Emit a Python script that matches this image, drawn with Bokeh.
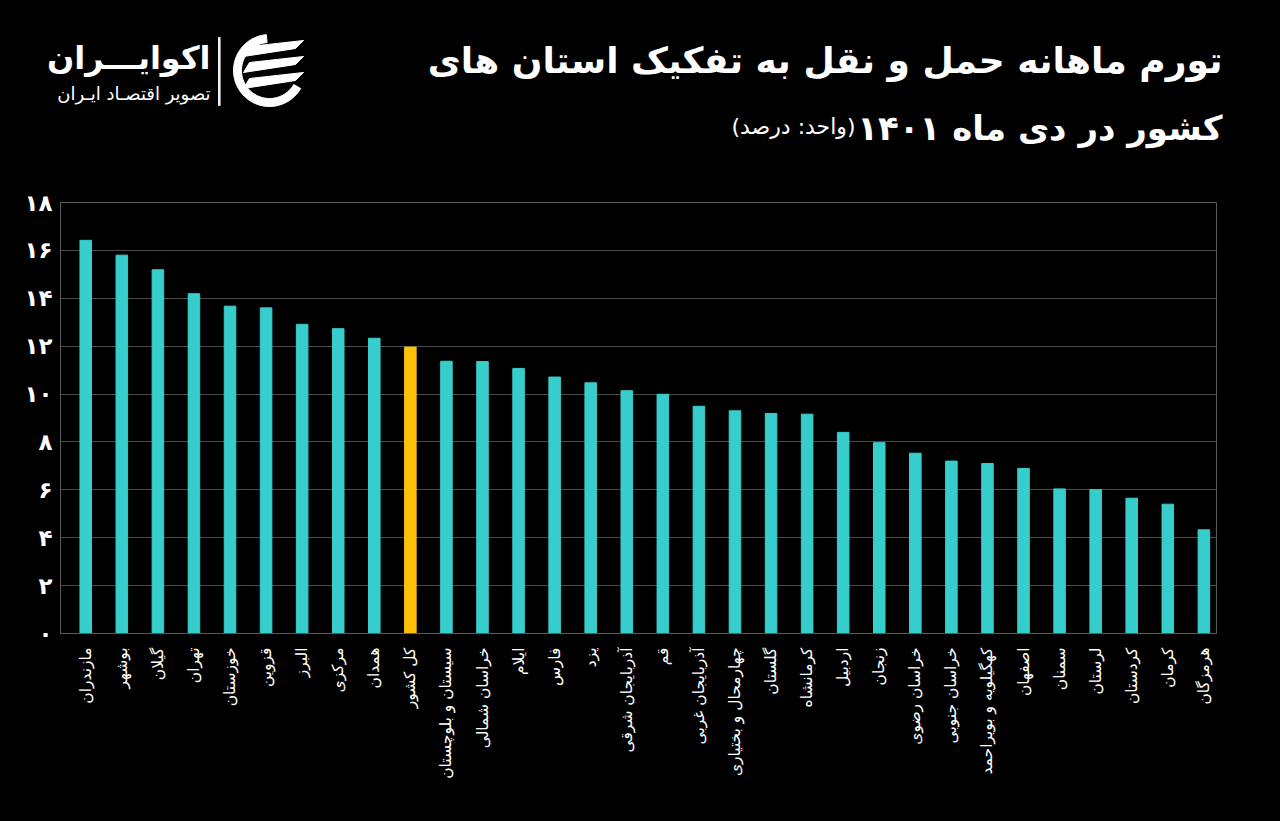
import numpy as np
from bokeh.plotting import figure
from bokeh.core.properties import value
from bokeh.models import Range1d, FixedTicker, ColumnDataSource
from bokeh.embed import file_html
from bokeh.resources import INLINE

# ---------------- data ----------------
provinces = ["مازندران", "بوشهر", "گیلان", "تهران", "خوزستان", "قزوین", "البرز",
             "مرکزی", "همدان", "کل کشور", "سیستان و بلوچستان", "خراسان شمالی",
             "ایلام", "فارس", "یزد", "آذربایجان شرقی", "قم", "آذربایجان غربی",
             "چهارمحال و بختیاری", "گلستان", "کرمانشاه", "اردبیل", "زنجان",
             "خراسان رضوی", "خراسان جنوبی", "کهگیلویه و بویراحمد", "اصفهان",
             "سمنان", "لرستان", "کردستان", "کرمان", "هرمزگان"]
values = [16.42, 15.80, 15.19, 14.19, 13.67, 13.60, 12.91, 12.73, 12.33, 11.96,
          11.37, 11.36, 11.07, 10.71, 10.47, 10.14, 9.99, 9.49, 9.30, 9.19,
          9.16, 8.40, 7.97, 7.53, 7.20, 7.10, 6.89, 6.04, 6.01, 5.65, 5.40, 4.33]
highlight = "کل کشور"
y_ticks = [0, 2, 4, 6, 8, 10, 12, 14, 16, 18]
y_tick_labels = ["۰", "۲", "۴", "۶", "۸", "۱۰", "۱۲", "۱۴", "۱۶", "۱۸"]

title_line1 = "تورم ماهانه حمل و نقل به تفکیک استان های"
title_line2 = "کشور در دی ماه ۱۴۰۱"
unit_text = "(واحد: درصد)"
brand = "اکوایـــران"
brand_sub = "تصویر اقتصـاد ایـران"

TEAL = "#38CDCD"
GOLD = "#FFC107"
FONT = "DejaVu Sans"

W, H = 1280, 821
HEAD = 170          # header strip height
FL, FT, FR, FB = 60, 202, 1216, 633   # chart frame in page px

# ---------------- header (title + logo) ----------------
hd = figure(width=W, height=HEAD, output_backend="svg", toolbar_location=None,
            x_range=Range1d(0, W), y_range=Range1d(HEAD, 0),
            x_axis_type=None, y_axis_type=None,
            min_border=0, min_border_left=0, min_border_right=0,
            min_border_top=0, min_border_bottom=0)
hd.background_fill_color = "black"
hd.border_fill_color = "black"
hd.outline_line_color = None


def htext(txt, x, y, size, bold=True):
    hd.text(x=[x], y=[y], text=[txt], text_align="right", text_baseline="middle",
            text_color="white", text_font=value(FONT), text_font_size=size,
            text_font_style="bold" if bold else "normal")


htext(title_line1, 1222, 60, "36px")
htext(title_line2, 1222, 127, "34px")
htext(unit_text, 855, 126, "22px", bold=False)
htext(brand, 210, 57, "32px")
htext(brand_sub, 210, 93, "18px", bold=False)

# divider
hd.quad(left=[218], right=[219.6], top=[37], bottom=[105], color="white", alpha=0.9)

# logo icon (decorative approximation)
cx, cy, R = 269, 70, 36
th = np.linspace(np.radians(95), np.radians(330), 60)
ring_x = list(cx + R * np.cos(th)) + list(cx + (R - 8) * np.cos(th[::-1]))
ring_y = list(cy - R * np.sin(th)) + list(cy - (R - 8) * np.sin(th[::-1]))
shape_xs = [ring_x]
shape_ys = [ring_y]
for off in [-18, -2, 14]:
    shape_xs.append([cx - 20, cx + 34, cx + 26, cx - 26])
    shape_ys.append([cy + off - 6, cy + off - 12, cy + off - 4, cy + off + 4])
hd.patches(xs=shape_xs, ys=shape_ys, color="white")

# ---------------- chart ----------------
idx = list(range(len(provinces)))
colors = [GOLD if n == highlight else TEAL for n in provinces]
src = ColumnDataSource(dict(x=idx, top=values, color=colors, name=provinces))

p = figure(width=W, height=H - HEAD, output_backend="svg", toolbar_location=None,
           x_range=Range1d(-0.70, len(provinces) - 1 + 0.35),
           y_range=Range1d(0, 18),
           min_border_left=FL, min_border_right=W - FR,
           min_border_top=FT - HEAD, min_border_bottom=H - FB)
p.background_fill_color = "black"
p.border_fill_color = "black"
p.outline_line_color = "#5a5a5a"

p.vbar(x="x", top="top", width=0.32, color="color", source=src)

# x axis
p.xaxis.ticker = FixedTicker(ticks=idx)
p.xaxis.major_label_overrides = {i: n for i, n in zip(idx, provinces)}
p.xaxis.major_label_orientation = np.pi / 2
p.xaxis.major_tick_line_color = None
p.xaxis.minor_tick_line_color = None
p.xaxis.major_tick_out = 0
p.xaxis.major_tick_in = 0
p.xaxis.major_label_standoff = 14
p.xaxis.axis_line_color = "#5a5a5a"
p.xaxis.major_label_text_color = "white"
p.xaxis.major_label_text_font = FONT
p.xaxis.major_label_text_font_size = "15.5px"

# y axis
p.yaxis.ticker = FixedTicker(ticks=y_ticks)
p.yaxis.major_label_overrides = {t: l for t, l in zip(y_ticks, y_tick_labels)}
p.yaxis.major_tick_line_color = None
p.yaxis.minor_tick_line_color = None
p.yaxis.major_tick_out = 0
p.yaxis.major_tick_in = 0
p.yaxis.major_label_standoff = 8
p.yaxis.axis_line_color = "#5a5a5a"
p.yaxis.major_label_text_color = "white"
p.yaxis.major_label_text_font = FONT
p.yaxis.major_label_text_font_style = "bold"
p.yaxis.major_label_text_font_size = "23px"

p.xgrid.grid_line_color = None
p.ygrid.grid_line_color = "#4a4a4a"
p.ygrid.grid_line_width = 1

html = file_html([hd, p], INLINE)
html = html.replace("</head>", "<style>html, body { background: #000000; }</style>\n</head>", 1)
open("out.html", "w").write(html)
